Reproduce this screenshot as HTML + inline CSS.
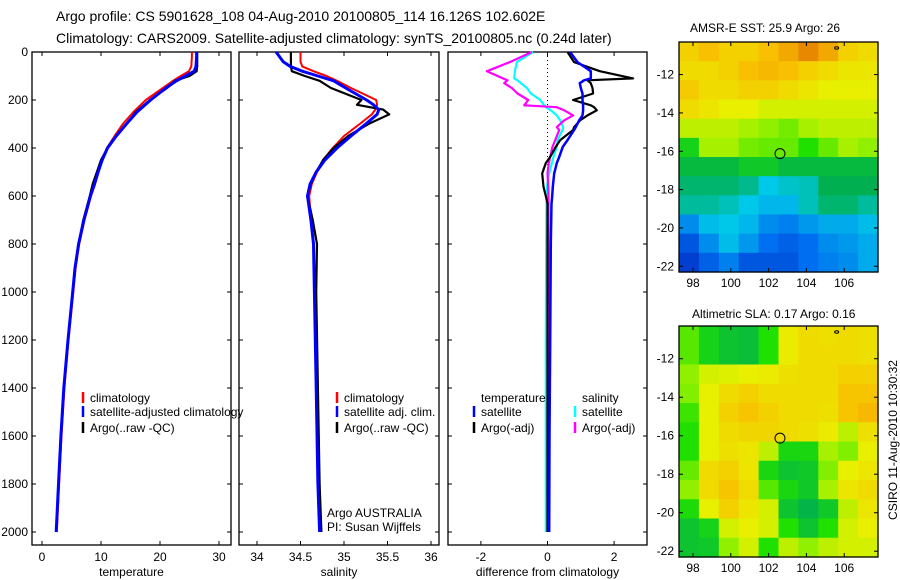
<!DOCTYPE html>
<html><head><meta charset="utf-8"><style>
html,body{margin:0;padding:0;background:#fff;width:900px;height:580px;overflow:hidden}
svg{display:block;font-family:"Liberation Sans",sans-serif}
</style></head><body>
<svg id="c" width="900" height="580" xmlns="http://www.w3.org/2000/svg">
<text x="56" y="21" font-size="14">Argo profile: CS 5901628_108 04-Aug-2010 20100805_114 16.126S 102.602E</text>
<text x="56" y="43" font-size="14">Climatology: CARS2009. Satellite-adjusted climatology: synTS_20100805.nc (0.24d later)</text>
<text x="690" y="32" font-size="12">AMSR-E SST: 25.9 Argo: 26</text>
<text x="692" y="318" font-size="12">Altimetric SLA: 0.17 Argo: 0.16</text>
<text transform="translate(897,440) rotate(-90)" text-anchor="middle" font-size="12">CSIRO 11-Aug-2010 10:30:32</text>
<text x="327" y="517" font-size="12">Argo AUSTRALIA</text>
<text x="327" y="531" font-size="12">PI: Susan Wijffels</text>
</svg>
<script>
// ---- data ----
const depthT=[0,20,60,80,100,120,150,200,250,300,350,400,450,500,550,600,700,800,900,1000,1200,1400,1600,1800,2000];
const climT=[25.4,25.4,25.3,24.9,23.5,22.2,20.5,17.6,15.5,13.7,12.3,11.0,10.2,9.6,9.0,8.3,7.2,6.3,5.7,5.3,4.5,3.8,3.3,2.9,2.5];
const satT=[26.2,26.2,26.1,25.8,24.3,22.8,21.0,18.4,16.1,14.3,12.6,11.1,10.2,9.5,8.9,8.2,7.1,6.2,5.6,5.2,4.4,3.7,3.2,2.8,2.4];
const argoT=[26.3,26.3,26.3,26.2,25.0,22.5,21.2,18.3,15.9,14.3,12.5,11.1,10.0,9.3,8.6,8.1,7.0,6.2,5.6,5.2,4.4,3.7,3.2,2.8,2.4];
const depthS=[0,40,60,80,100,120,150,200,220,240,260,300,350,400,450,500,550,600,700,800,1000,1400,1800,2000];
const climS=[34.50,34.50,34.52,34.65,34.80,34.92,35.08,35.37,35.38,35.36,35.32,35.18,35.00,34.87,34.76,34.69,34.63,34.60,34.62,34.65,34.66,34.68,34.71,34.73];
const argoS=[34.39,34.39,34.39,34.40,34.55,34.72,34.85,35.20,35.15,35.45,35.52,35.28,35.05,34.88,34.76,34.68,34.62,34.58,34.64,34.69,34.68,34.70,34.72,34.74];
const satS=[34.22,34.30,34.38,34.52,34.70,34.88,35.02,35.26,35.34,35.40,35.38,35.25,35.08,34.92,34.78,34.68,34.61,34.58,34.62,34.65,34.66,34.68,34.70,34.72];
const depthD=[0,42,80,110,118,130,150,173,200,222,230,243,264,285,313,325,367,395,437,463,506,562,600,632,800,1200,1600,2000];
const dTsat=[0.68,0.9,1.3,1.3,1.1,0.97,1.0,1.05,1.05,1.07,1.07,1.07,1.05,0.95,0.85,0.8,0.6,0.46,0.35,0.28,0.2,0.16,0.14,0.12,0.1,0.08,0.06,0.05];
const dTargo=[0.6,0.8,1.57,2.57,1.2,1.3,1.35,1.37,0.77,1.3,1.4,1.48,1.2,0.98,0.8,0.77,0.38,0.25,0.08,-0.05,-0.16,-0.12,-0.05,0.0,0.0,0.0,0.0,0.0];
const dSsat=[-0.43,-0.92,-0.98,-1.0,-0.9,-0.8,-0.62,-0.5,-0.22,-0.1,-0.05,0.1,0.28,0.38,0.47,0.45,0.3,0.28,0.18,0.13,0.05,-0.02,-0.02,-0.03,-0.04,-0.05,-0.05,-0.05];
const dSargo=[-0.47,-1.13,-1.82,-1.34,-1.2,-1.3,-1.07,-0.9,-0.58,-0.7,0.28,0.5,0.77,0.5,0.28,0.35,0.23,0.15,0.08,0.04,0.0,0.02,0.03,0.03,0.03,0.03,0.03,0.03];
const depthTicks=[0,200,400,600,800,1000,1200,1400,1600,1800,2000];
const tempTicks=[0,10,20,30];
const salTicks=[34,34.5,35,35.5,36];
const salTickLabels=["34","34.5","35","35.5","36"];
const diffTicks=[-2,0,2];
const lonTicks=[98,100,102,104,106];
const latTicks=[-12,-14,-16,-18,-20,-22];
const sstGrid=[
[0.72,0.75,0.72,0.72,0.75,0.78,0.82,0.78,0.72,0.70],
[0.70,0.70,0.72,0.75,0.76,0.75,0.72,0.70,0.68,0.68],
[0.73,0.70,0.70,0.72,0.72,0.70,0.68,0.66,0.66,0.66],
[0.70,0.68,0.66,0.66,0.64,0.64,0.64,0.64,0.64,0.64],
[0.62,0.62,0.62,0.60,0.58,0.56,0.60,0.62,0.62,0.62],
[0.47,0.60,0.60,0.56,0.55,0.55,0.50,0.55,0.60,0.58],
[0.42,0.42,0.42,0.45,0.45,0.42,0.42,0.42,0.42,0.42],
[0.38,0.38,0.38,0.36,0.30,0.32,0.33,0.40,0.40,0.40],
[0.35,0.35,0.33,0.30,0.27,0.27,0.33,0.38,0.38,0.35],
[0.20,0.28,0.30,0.27,0.20,0.18,0.22,0.25,0.25,0.28],
[0.10,0.20,0.28,0.22,0.15,0.12,0.15,0.20,0.22,0.25],
[0.05,0.12,0.18,0.10,0.10,0.10,0.15,0.18,0.20,0.25]];
const slaGrid=[
[0.54,0.47,0.44,0.43,0.50,0.67,0.70,0.69,0.70,0.69],
[0.54,0.47,0.44,0.43,0.50,0.67,0.70,0.70,0.70,0.69],
[0.58,0.64,0.65,0.66,0.67,0.69,0.70,0.70,0.72,0.72],
[0.57,0.66,0.70,0.72,0.70,0.70,0.70,0.70,0.74,0.74],
[0.52,0.66,0.72,0.74,0.72,0.70,0.70,0.69,0.74,0.76],
[0.50,0.66,0.70,0.71,0.71,0.70,0.69,0.67,0.62,0.69],
[0.50,0.66,0.69,0.68,0.62,0.48,0.48,0.60,0.57,0.66],
[0.55,0.70,0.72,0.68,0.48,0.44,0.45,0.57,0.66,0.68],
[0.58,0.70,0.74,0.70,0.54,0.48,0.45,0.60,0.68,0.70],
[0.49,0.66,0.72,0.68,0.64,0.44,0.41,0.45,0.62,0.68],
[0.44,0.47,0.64,0.66,0.64,0.50,0.44,0.50,0.64,0.66],
[0.44,0.45,0.58,0.64,0.50,0.62,0.58,0.62,0.64,0.64]];
const argoLon=102.602, argoLat=-16.126;

// ---- drawing ----
const svg=document.getElementById('c');
const NS='http://www.w3.org/2000/svg';
function mk(tag,attrs,parent){const e=document.createElementNS(NS,tag);for(const k in attrs)e.setAttribute(k,attrs[k]);(parent||svg).appendChild(e);return e;}
const Y0=52,YB=545;
const yD=d=>Y0+d*0.24;
const xT=v=>42+v*5.9;
const xS=v=>257+(v-34)*87;
const xDf=v=>547.5+v*33.3;

function panel(name,x0,x1,xf,ticks,labels,xlabel,showY){
  const g=mk('g',{});
  
  
  mk('rect',{x:x0,y:Y0,width:x1-x0,height:YB-Y0,fill:'none',stroke:'#000','stroke-width':1.3},g);
  depthTicks.forEach(d=>{
    const y=yD(d);
    mk('line',{x1:x0,y1:y,x2:x0+4,y2:y,stroke:'#000'},g);
    mk('line',{x1:x1-4,y1:y,x2:x1,y2:y,stroke:'#000'},g);
    if(showY){const t=mk('text',{x:28,y:y+4,'font-size':12,'text-anchor':'end'},g);t.textContent=d;
      
      }
  });
  ticks.forEach((v,i)=>{
    const x=xf(v);
    mk('line',{x1:x,y1:Y0,x2:x,y2:Y0+4,stroke:'#000'},g);
    mk('line',{x1:x,y1:YB-4,x2:x,y2:YB,stroke:'#000'},g);
    const t=mk('text',{x:x,y:561,'font-size':12,'text-anchor':'middle'},g);t.textContent=labels[i];
    
    
  });
  const xl=mk('text',{x:(x0+x1)/2,y:576,'font-size':12,'text-anchor':'middle'},g);xl.textContent=xlabel;
  
  
  return g;
}
function line(g,xs,ds,xf,color,w,name){
  const p=xs.map((v,i)=>xf(v).toFixed(1)+','+yD(ds[i]).toFixed(1)).join(' ');
  const e=mk('polyline',{points:p,fill:'none',stroke:color,'stroke-width':w,'stroke-linejoin':'round'},g);
  
  
}
function legend(g,x,y,color,text,name){
  if(color)mk('line',{x1:x,y1:y-10,x2:x,y2:y+1,stroke:color,'stroke-width':2.5},g);
  const t=mk('text',{x:x+7,y:y,'font-size':12},g);t.textContent=text;
  
  
}
const g1=panel('temperature',32,231,xT,tempTicks,tempTicks.map(String),'temperature',true);
line(g1,climT,depthT,xT,'#f00',2,'temp-climatology-line');
line(g1,argoT,depthT,xT,'#000',2.2,'temp-argo-line');
line(g1,satT,depthT,xT,'#00f',3,'temp-satellite-line');
legend(g1,83,402,'#f00','climatology','legend-climatology');
legend(g1,83,416,'#00f','satellite-adjusted climatology','legend-satellite-adjusted');
legend(g1,83,432,'#000','Argo(..raw -QC)','legend-argo');

const g2=panel('salinity',239,439,xS,salTicks,salTickLabels,'salinity',false);
line(g2,climS,depthS,xS,'#f00',2,'sal-climatology-line');
line(g2,argoS,depthS,xS,'#000',2.2,'sal-argo-line');
line(g2,satS,depthS,xS,'#00f',3,'sal-satellite-line');
legend(g2,337,402,'#f00','climatology','legend-sal-climatology');
legend(g2,337,416,'#00f','satellite adj. clim.','legend-sal-satellite');
legend(g2,337,432,'#000','Argo(..raw -QC)','legend-sal-argo');

const g3=panel('difference',448,647,xDf,diffTicks,diffTicks.map(String),'difference from climatology',false);
mk('line',{x1:xDf(0),y1:Y0,x2:xDf(0),y2:yD(2000),stroke:'#000','stroke-dasharray':'1,3'},g3);
line(g3,dSsat,depthD,xDf,'#0ff',2.2,'diff-sal-satellite-line');
line(g3,dSargo,depthD,xDf,'#f0f',2.2,'diff-sal-argo-line');
line(g3,dTargo,depthD,xDf,'#000',2.2,'diff-temp-argo-line');
line(g3,dTsat,depthD,xDf,'#00f',2.5,'diff-temp-satellite-line');
legend(g3,474,402,null,'temperature','legend-temperature-header');
legend(g3,474,416,'#00f','satellite','legend-diff-temp-satellite');
legend(g3,474,432,'#000','Argo(-adj)','legend-diff-temp-argo');
legend(g3,575,402,null,'salinity','legend-salinity-header');
legend(g3,575,416,'#0ff','satellite','legend-diff-sal-satellite');
legend(g3,575,432,'#f0f','Argo(-adj)','legend-diff-sal-argo');

// colormap
const cstops=[[0,[0,40,190]],[0.15,[0,110,240]],[0.3,[0,200,232]],[0.4,[0,176,80]],[0.5,[32,224,0]],[0.58,[144,240,0]],[0.66,[232,240,0]],[0.75,[248,192,0]],[0.85,[224,112,0]],[1,[200,60,0]]];
function cmap(v){for(let i=1;i<cstops.length;i++){if(v<=cstops[i][0]){const a=cstops[i-1],b=cstops[i];const t=(v-a[0])/(b[0]-a[0]);const c=a[1].map((x,k)=>Math.round(x+(b[1][k]-x)*t));return 'rgb('+c.join(',')+')';}}return 'rgb(200,60,0)';}
function map(name,top,bottom,grid){
  const L=679,R=878;
  const lonX=lo=>693+(lo-98)*18.9;
  const latY=la=>top+(bottom-top)*( (-10.3-la)/12 );
  const g=mk('g',{});
  
  
  const rows=grid.length,cols=grid[0].length;
  const cw=(R-L)/cols,ch=(bottom-top)/rows;
  grid.forEach((row,r)=>row.forEach((v,c)=>{
    const e=mk('rect',{x:(L+c*cw).toFixed(2),y:(top+r*ch).toFixed(2),width:(cw+0.6).toFixed(2),height:(ch+0.6).toFixed(2),fill:cmap(v)},g);
    
    
  }));
  mk('rect',{x:L,y:top,width:R-L,height:bottom-top,fill:'none',stroke:'#000','stroke-width':1.3},g);
  lonTicks.forEach(lo=>{const x=lonX(lo);
    mk('line',{x1:x,y1:top,x2:x,y2:top+4,stroke:'#000'},g);
    mk('line',{x1:x,y1:bottom-4,x2:x,y2:bottom,stroke:'#000'},g);
    const t=mk('text',{x:x,y:bottom+15,'font-size':12,'text-anchor':'middle'},g);t.textContent=lo;
    
    });
  latTicks.forEach(la=>{const y=latY(la);
    mk('line',{x1:L,y1:y,x2:L+4,y2:y,stroke:'#000'},g);
    mk('line',{x1:R-4,y1:y,x2:R,y2:y,stroke:'#000'},g);
    const t=mk('text',{x:L-5,y:y+4,'font-size':12,'text-anchor':'end'},g);t.textContent=la;
    
    });
  const ci=mk('circle',{cx:lonX(argoLon),cy:latY(argoLat),r:5,fill:'none',stroke:'#000','stroke-width':1},g);
  
  
  mk('ellipse',{cx:lonX(105.6),cy:top+6,rx:2,ry:1.2,fill:'none',stroke:'#000'},g);
}
map('sst-map',42,272,sstGrid);
map('sla-map',326,557,slaGrid);
</script>
</body></html>
